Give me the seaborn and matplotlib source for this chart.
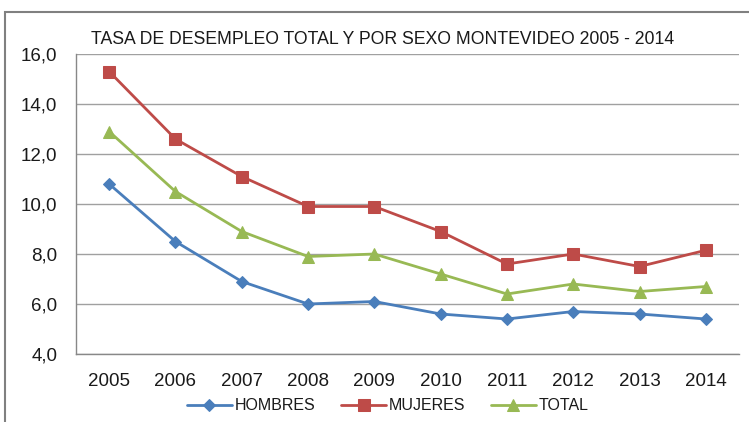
import numpy as np
import pandas as pd
import matplotlib
matplotlib.use('Agg')
import matplotlib.pyplot as plt
import seaborn as sns
from matplotlib.patches import Rectangle
from matplotlib.ticker import FixedLocator

years = ['2005', '2006', '2007', '2008', '2009', '2010', '2011', '2012', '2013', '2014']
hombres = [10.8, 8.5, 6.9, 6.0, 6.1, 5.6, 5.4, 5.7, 5.6, 5.4]
mujeres = [15.3, 12.6, 11.1, 9.9, 9.9, 8.9, 7.6, 8.0, 7.5, 8.15]
total = [12.9, 10.5, 8.9, 7.9, 8.0, 7.2, 6.4, 6.8, 6.5, 6.7]

series = ['HOMBRES', 'MUJERES', 'TOTAL']
colors = {'HOMBRES': '#4A7EBB', 'MUJERES': '#BE4B48', 'TOTAL': '#98B954'}
markers = {'HOMBRES': 'D', 'MUJERES': 's', 'TOTAL': '^'}
msizes = {'HOMBRES': 6, 'MUJERES': 8, 'TOTAL': 8.5}

df = pd.DataFrame({'pos': list(range(len(years))) * 3,
                   'valor': hombres + mujeres + total,
                   'serie': [s for s in series for _ in years]})

sns.set_style('white')
plt.rcParams['font.family'] = ['Liberation Sans', 'DejaVu Sans']
plt.rcParams['text.color'] = '#1a1a1a'

fig = plt.figure(figsize=(7.49, 4.22), dpi=100)
ax = fig.add_axes([76 / 749, 1 - 354 / 422, 663 / 749, 300 / 422])

for s in series:
    sdf = df[df['serie'] == s]
    sns.lineplot(data=sdf, x='pos', y='valor', ax=ax, color=colors[s], marker=markers[s],
                 markersize=msizes[s], markeredgecolor=colors[s],
                 linewidth=2, label=s)

ax.set_ylim(4, 16)
ax.set_xlim(-0.5, len(years) - 0.5)
ax.set_yticks(np.arange(4, 17, 2))
ax.set_yticklabels([('%.1f' % v).replace('.', ',') for v in np.arange(4, 17, 2)],
                   fontsize=13.5, color='#1a1a1a')
ax.set_xticks(range(len(years)))
ax.set_xticklabels(years, fontsize=13.5, color='#1a1a1a')
ax.xaxis.set_minor_locator(FixedLocator(np.arange(-0.5, len(years), 1)))
ax.tick_params(axis='x', which='major', length=0, pad=14)
ax.tick_params(axis='x', which='minor', length=4.3, color='#888888', width=1)
ax.tick_params(axis='y', which='major', length=5, color='#888888', width=1, pad=8.5, direction='out')
ax.grid(axis='y', color='#A0A0A0', linewidth=1)
ax.set_axisbelow(True)
for side in ['top', 'right']:
    ax.spines[side].set_visible(False)
for side in ['left', 'bottom']:
    ax.spines[side].set_color('#888888')
    ax.spines[side].set_linewidth(1)
ax.set_xlabel('')
ax.set_ylabel('')

fig.text(383 / 749, 1 - 40 / 422, 'TASA DE DESEMPLEO TOTAL Y POR SEXO MONTEVIDEO 2005 - 2014',
         fontsize=12.7, ha='center', va='center', color='#1a1a1a')

ax.legend(loc='center', bbox_to_anchor=(388 / 749, 1 - 406 / 422), bbox_transform=fig.transFigure,
          ncol=3, frameon=False, fontsize=11.5, handlelength=2.8, columnspacing=1.6,
          handletextpad=0.2)

fig.patches.append(Rectangle((5 / 749, -0.1), 1.0, 1 - 12 / 422 + 0.1,
                             transform=fig.transFigure, fill=False,
                             edgecolor='#808080', linewidth=1.5))

fig.savefig('out.png', dpi=100)
